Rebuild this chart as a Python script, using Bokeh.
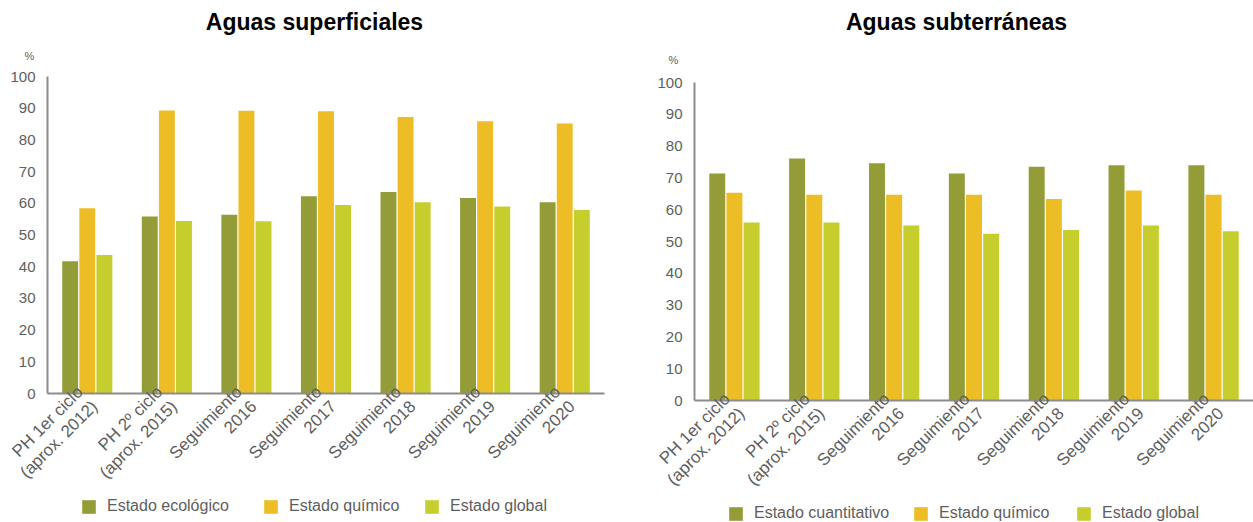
from math import pi

from bokeh.embed import file_html
from bokeh.layouts import column, row
from bokeh.models import (ColumnDataSource, FactorRange, FixedTicker, Label,
                          Legend, LegendItem, Range1d, Title)
from bokeh.plotting import figure
from bokeh.resources import INLINE
from bokeh.transform import dodge

# ---- data -------------------------------------------------------------
periodos = [
    "PH 1er ciclo\n(aprox. 2012)",
    "PH 2º ciclo\n(aprox. 2015)",
    "Seguimiento\n2016",
    "Seguimiento\n2017",
    "Seguimiento\n2018",
    "Seguimiento\n2019",
    "Seguimiento\n2020",
]

sup_ecologico = [41.7, 55.8, 56.4, 62.2, 63.6, 61.7, 60.3]
sup_quimico = [58.4, 89.3, 89.2, 89.0, 87.2, 85.9, 85.2]
sup_global = [43.7, 54.4, 54.3, 59.5, 60.3, 59.0, 57.9]

sub_cuantitativo = [71.4, 76.1, 74.6, 71.4, 73.5, 74.0, 74.0]
sub_quimico = [65.3, 64.7, 64.7, 64.7, 63.4, 66.0, 64.7]
sub_global = [56.0, 56.0, 55.0, 52.4, 53.6, 55.0, 53.2]

y_ticks = [0, 10, 20, 30, 40, 50, 60, 70, 80, 90, 100]

# ---- style ------------------------------------------------------------
C_DARK = "#949C38"
C_YELLOW = "#ECBD24"
C_LIGHT = "#C6CE2E"
COLORS = [C_DARK, C_YELLOW, C_LIGHT]
AXIS_GREY = "#8C8C8C"
TEXT_GREY = "#5E5E5E"
FONT = "Liberation Sans"


def blank(width, height):
    """A figure without axes (its frame lines up with the chart below)."""
    f = figure(width=width, height=height, x_range=Range1d(0, 1),
               y_range=Range1d(0, 1), x_axis_type=None, y_axis_type=None,
               output_backend="svg", toolbar_location=None, min_border=0)
    f.outline_line_color = None
    f.xgrid.visible = False
    f.ygrid.visible = False
    return f


def header(title, width, height, title_x, title_y):
    h = blank(width, height)
    h.add_layout(Label(
        x=title_x, y=title_y, x_units="screen", y_units="screen", text=title,
        text_font=FONT, text_font_size="23px", text_font_style="bold",
        text_color="black", text_align="center", text_baseline="middle",
    ))
    return h


def chart(series_values, frame_w, frame_h, left, right, pct_offset,
          pct_standoff):
    src = ColumnDataSource(dict(
        periodo=periodos,
        s0=series_values[0], s1=series_values[1], s2=series_values[2],
    ))
    p = figure(
        x_range=FactorRange(*periodos),
        y_range=Range1d(0, 100),
        frame_width=frame_w, frame_height=frame_h,
        output_backend="svg", toolbar_location=None,
        min_border_left=left, min_border_right=right,
        min_border_top=0, min_border_bottom=0,
    )
    p.outline_line_color = None
    p.xgrid.visible = False
    p.ygrid.visible = False

    offsets = [-0.215, 0.0, 0.215]
    for i, (col, off) in enumerate(zip(COLORS, offsets)):
        p.vbar(x=dodge("periodo", off, range=p.x_range), top=f"s{i}",
               width=0.2, bottom=0, source=src,
               fill_color=col, line_color=None)

    for ax in (p.xaxis[0], p.yaxis[0]):
        ax.axis_line_color = AXIS_GREY
        ax.axis_line_width = 2
        ax.major_tick_line_color = None
        ax.minor_tick_line_color = None
        ax.major_tick_out = 0
        ax.major_tick_in = 0
        ax.major_label_text_color = TEXT_GREY
        ax.major_label_text_font = FONT
    p.yaxis.ticker = FixedTicker(ticks=y_ticks)
    p.yaxis.major_label_text_font_size = "15px"
    p.yaxis.major_label_standoff = 12
    p.xaxis.major_label_orientation = pi / 4
    p.xaxis.major_label_text_font_size = "17px"
    p.xaxis.major_label_text_line_height = 1.08
    p.xaxis.major_label_standoff = 3

    # unit mark above the value axis
    p.add_layout(Title(
        text="%", align="left", offset=pct_offset, standoff=pct_standoff,
        vertical_align="top", text_font=FONT, text_font_size="11px",
        text_font_style="normal", text_color=TEXT_GREY,
    ), "above")
    return p


def legend_strip(names, width, height, xs, y):
    f = blank(width, height)
    for name, col, lx in zip(names, COLORS, xs):
        # zero-height stand-in that only lends its colour to the legend
        swatch = f.vbar(x=[0], top=[0], bottom=[0], width=0.01,
                        fill_color=col, line_color=None)
        f.add_layout(Legend(
            items=[LegendItem(label=name, renderers=[swatch])],
            location=(lx, y), orientation="horizontal",
            glyph_width=17, glyph_height=17, label_height=17,
            label_standoff=10, padding=0, margin=0, spacing=0,
            border_line_color=None, background_fill_alpha=0,
            label_text_font=FONT, label_text_font_size="16px",
            label_text_color=TEXT_GREY,
        ))
    return f


# ---- Aguas superficiales ----------------------------------------------
left_col = column(
    header("Aguas superficiales", 626, 36, 267, 15),
    chart([sup_ecologico, sup_quimico, sup_global], 557, 317, 47, 22,
          -23, 26),
    legend_strip(["Estado ecológico", "Estado químico", "Estado global"],
                 626, 24, [33, 215, 376], 7),
    spacing=0,
)

# ---- Aguas subterráneas -----------------------------------------------
right_col = column(
    header("Aguas subterráneas", 627, 38, 262, 17),
    chart([sub_cuantitativo, sub_quimico, sub_global], 559, 318, 68, 0,
          -26, 30),
    legend_strip(["Estado cuantitativo", "Estado químico", "Estado global"],
                 627, 17, [33, 218, 381], 0),
    spacing=0,
)

layout = row(left_col, right_col, spacing=0)
open("out.html", "w").write(file_html(layout, INLINE))
